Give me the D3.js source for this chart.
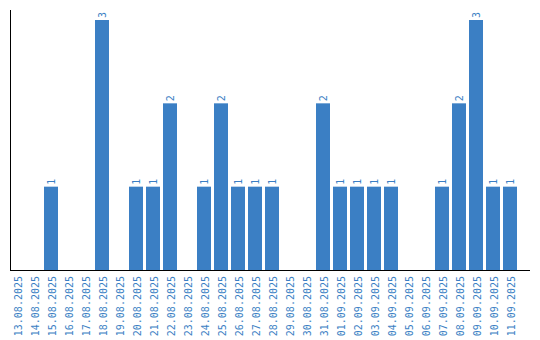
<!DOCTYPE html>
<html><head><meta charset="utf-8">
<script src="https://cdn.jsdelivr.net/npm/d3@7"></script>
<style>body{margin:0;background:#fff}svg{display:block}</style>
</head><body>
<svg id="c" width="540" height="340"></svg>
<script>
const categories = ["13.08.2025","14.08.2025","15.08.2025","16.08.2025","17.08.2025","18.08.2025","19.08.2025","20.08.2025","21.08.2025","22.08.2025","23.08.2025","24.08.2025","25.08.2025","26.08.2025","27.08.2025","28.08.2025","29.08.2025","30.08.2025","31.08.2025","01.09.2025","02.09.2025","03.09.2025","04.09.2025","05.09.2025","06.09.2025","07.09.2025","08.09.2025","09.09.2025","10.09.2025","11.09.2025"];
const values = [0,0,1,0,0,3,0,1,1,2,0,1,2,1,1,1,0,0,2,1,1,1,1,0,0,1,2,3,1,1];

const blue = "#3b7fc4";
const svg = d3.select("#c");
const x = d3.scaleBand().domain(categories).range([10, 517]).paddingInner(3/17).paddingOuter(0);
const y = d3.scaleLinear().domain([0, 3]).range([270, 20]);
const data = categories.map((c, i) => ({c, v: values[i]}));

svg.append("g").selectAll("rect").data(data.filter(d => d.v > 0)).join("rect")
  .attr("x", d => x(d.c)).attr("width", x.bandwidth())
  .attr("y", d => y(d.v)).attr("height", d => y(0) - y(d.v))
  .attr("fill", blue);

svg.append("g").selectAll("text").data(data.filter(d => d.v > 0)).join("text")
  .attr("transform", d => `translate(${x(d.c) + x.bandwidth()/2 + 0.5},${y(d.v) - 2}) rotate(-90)`)
  .attr("dy", "0.35em")
  .attr("text-anchor", "start")
  .attr("font-family", "DejaVu Sans Mono")
  .attr("font-size", 10)
  .attr("fill", blue)
  .text(d => d.v);

const xAxis = svg.append("g").attr("transform", "translate(0,270)")
  .call(d3.axisBottom(x).tickSize(0).tickPadding(0));
xAxis.select(".domain").remove();
xAxis.selectAll("text")
  .attr("font-family", "DejaVu Sans Mono")
  .attr("font-size", 10)
  .attr("fill", blue)
  .attr("text-anchor", "end")
  .attr("dy", "0.35em")
  .attr("transform", "translate(1.5,6) rotate(-90)")
  .attr("x", 0).attr("y", 0);

svg.append("line").attr("x1", 10.5).attr("x2", 10.5).attr("y1", 10).attr("y2", 270.5)
  .attr("stroke", "#000").attr("stroke-width", 1);
svg.append("line").attr("x1", 10).attr("x2", 530).attr("y1", 270.5).attr("y2", 270.5)
  .attr("stroke", "#000").attr("stroke-width", 1);
</script>
</body></html>
